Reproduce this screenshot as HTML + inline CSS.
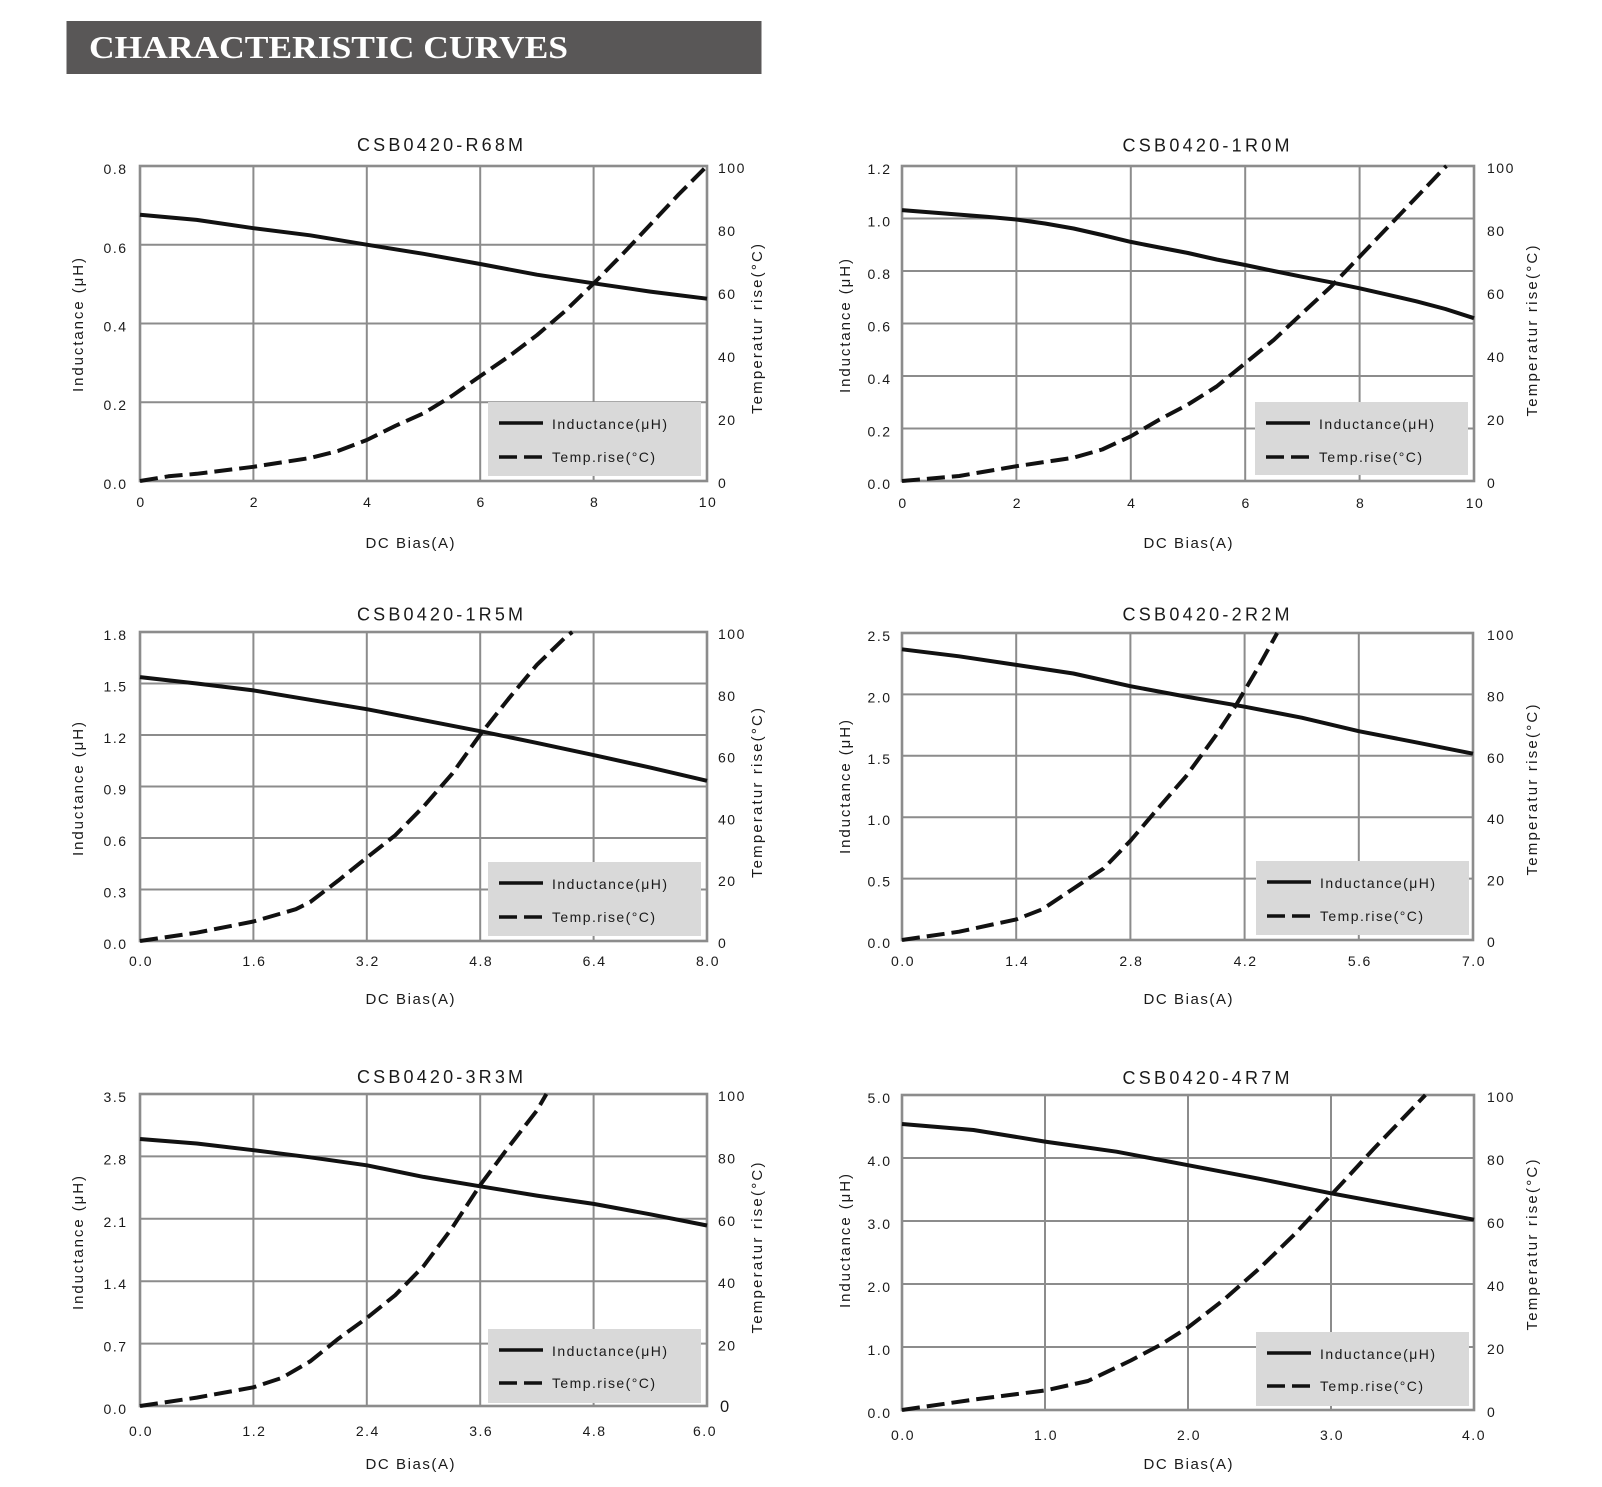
<!DOCTYPE html>
<html><head><meta charset="utf-8"><style>
html,body{margin:0;padding:0;background:#fff;}
svg{display:block;}
text{font-family:"Liberation Sans",sans-serif;fill:#1a1a1a;}
.t{font-size:14px;letter-spacing:1.5px;}
.l{text-anchor:end;}
.m{text-anchor:middle;}
.ttl{font-size:18px;text-anchor:middle;}
.ax{font-size:15px;}
.lg{font-size:14px;}
.g{stroke:#8c8c8c;stroke-width:2;fill:none;}
.fr{stroke:#8c8c8c;stroke-width:2.6;fill:none;}
.cL{stroke:#111;stroke-width:4;fill:none;stroke-linejoin:round;}
.cT{stroke:#111;stroke-width:4;fill:none;stroke-linejoin:round;stroke-dasharray:18 7;}
.lb{fill:#d9d9d9;}
</style></head><body>
<svg width="1602" height="1487" viewBox="0 0 1602 1487" xmlns="http://www.w3.org/2000/svg">
<rect x="66.5" y="21" width="695" height="53" fill="#595757"/>
<text x="89" y="58" style="font-family:'Liberation Serif',serif;font-weight:bold;font-size:32px;fill:#fff" textLength="479" lengthAdjust="spacingAndGlyphs">CHARACTERISTIC CURVES</text>

<!-- ============ CHART 1 ============ -->
<text class="ttl" x="440" y="151" textLength="166">CSB0420-R68M</text>
<g class="g">
<line x1="253.4" y1="166" x2="253.4" y2="481"/><line x1="366.8" y1="166" x2="366.8" y2="481"/><line x1="480.2" y1="166" x2="480.2" y2="481"/><line x1="593.6" y1="166" x2="593.6" y2="481"/>
<line x1="140" y1="402.25" x2="707" y2="402.25"/><line x1="140" y1="323.5" x2="707" y2="323.5"/><line x1="140" y1="244.75" x2="707" y2="244.75"/>
</g>
<rect class="lb" x="488" y="402" width="213" height="74"/>
<rect class="fr" x="140" y="166" width="567" height="315"/>
<g class="t l"><text x="127.5" y="489">0.0</text><text x="127.5" y="410">0.2</text><text x="127.5" y="331.5">0.4</text><text x="127.5" y="253">0.6</text><text x="127.5" y="174">0.8</text></g>
<g class="t"><text x="718" y="488">0</text><text x="718" y="425">20</text><text x="718" y="362">40</text><text x="718" y="299">60</text><text x="718" y="236">80</text><text x="718" y="173">100</text></g>
<g class="t m"><text x="141" y="507">0</text><text x="254.4" y="507">2</text><text x="367.8" y="507">4</text><text x="481.2" y="507">6</text><text x="594.6" y="507">8</text><text x="708" y="507">10</text></g>
<text class="ax m" x="410" y="548" textLength="89">DC Bias(A)</text>
<text class="ax m" transform="translate(83,325) rotate(-90)" textLength="134">Inductance (μH)</text>
<text class="ax m" transform="translate(762,329) rotate(-90)" textLength="170">Temperatur rise(°C)</text>
<line x1="499" y1="423" x2="543" y2="423" stroke="#111" stroke-width="3.6"/>
<text class="lg" x="552" y="429" textLength="115">Inductance(μH)</text>
<line x1="499" y1="457" x2="543" y2="457" stroke="#111" stroke-width="3.6" stroke-dasharray="18 7"/>
<text class="lg" x="552" y="462" textLength="103">Temp.rise(°C)</text>
<polyline class="cL" points="140,214.8 196.7,219.9 253.4,228.2 310.1,235.3 366.8,244.7 423.5,253.8 480.2,264 536.9,274.7 593.6,283.3 650.3,291.6 707,298.7"/>
<polyline class="cT" points="140,481 168.4,476.3 196.7,473.8 253.4,466.8 310.1,458 338.5,450.8 366.8,440 395.2,425.9 423.5,413.3 451.9,396 480.2,376.1 508.6,356.6 536.9,335.2 565.3,310.9 593.6,283.5 621.9,254.8 650.3,224.6 678.7,194.4 707,166"/>

<!-- ============ CHART 2 ============ -->
<text class="ttl" x="1206" y="151.5" textLength="167">CSB0420-1R0M</text>
<g class="g">
<line x1="1016.4" y1="166" x2="1016.4" y2="481"/><line x1="1130.8" y1="166" x2="1130.8" y2="481"/><line x1="1245.2" y1="166" x2="1245.2" y2="481"/><line x1="1359.6" y1="166" x2="1359.6" y2="481"/>
<line x1="902" y1="428.5" x2="1474" y2="428.5"/><line x1="902" y1="376" x2="1474" y2="376"/><line x1="902" y1="323.5" x2="1474" y2="323.5"/><line x1="902" y1="271" x2="1474" y2="271"/><line x1="902" y1="218.5" x2="1474" y2="218.5"/>
</g>
<rect class="lb" x="1255" y="402" width="213" height="73"/>
<rect class="fr" x="902" y="166" width="572" height="315"/>
<g class="t l"><text x="891.5" y="489">0.0</text><text x="891.5" y="436.5">0.2</text><text x="891.5" y="384">0.4</text><text x="891.5" y="331.5">0.6</text><text x="891.5" y="279">0.8</text><text x="891.5" y="226.5">1.0</text><text x="891.5" y="174">1.2</text></g>
<g class="t"><text x="1487" y="488">0</text><text x="1487" y="425">20</text><text x="1487" y="362">40</text><text x="1487" y="299">60</text><text x="1487" y="236">80</text><text x="1487" y="173">100</text></g>
<g class="t m"><text x="903" y="508">0</text><text x="1017.4" y="508">2</text><text x="1131.8" y="508">4</text><text x="1246.2" y="508">6</text><text x="1360.6" y="508">8</text><text x="1475" y="508">10</text></g>
<text class="ax m" x="1188" y="548" textLength="89">DC Bias(A)</text>
<text class="ax m" transform="translate(850,326) rotate(-90)" textLength="134">Inductance (μH)</text>
<text class="ax m" transform="translate(1537,331) rotate(-90)" textLength="171">Temperatur rise(°C)</text>
<line x1="1266" y1="423" x2="1310" y2="423" stroke="#111" stroke-width="3.6"/>
<text class="lg" x="1319" y="429" textLength="115">Inductance(μH)</text>
<line x1="1266" y1="457" x2="1310" y2="457" stroke="#111" stroke-width="3.6" stroke-dasharray="18 7"/>
<text class="lg" x="1319" y="462" textLength="103">Temp.rise(°C)</text>
<polyline class="cL" points="902,210.1 959.2,214.6 987.8,216.9 1016.4,219.5 1045,223.5 1073.6,228.5 1102.2,235 1130.8,241.9 1159.4,247.5 1188,253 1216.6,259.5 1245.2,265 1273.8,271 1302.4,276.8 1331,282.3 1359.6,288.3 1388.2,294.8 1416.8,301.4 1445.4,309 1474,318.2"/>
<polyline class="cT" points="902,481 959.2,476 1016.4,466.2 1073.6,457.7 1102.2,449.5 1130.8,436.3 1159.4,419.6 1188,404.5 1216.6,386.5 1245.2,363.2 1273.8,339.9 1302.4,313.1 1331,286.6 1359.6,256.7 1388.2,226.8 1416.8,196.9 1445.4,166.9 1446.5,166"/>

<!-- ============ CHART 3 ============ -->
<text class="ttl" x="440" y="620.5" textLength="166">CSB0420-1R5M</text>
<g class="g">
<line x1="253.4" y1="632" x2="253.4" y2="941"/><line x1="366.8" y1="632" x2="366.8" y2="941"/><line x1="480.2" y1="632" x2="480.2" y2="941"/><line x1="593.6" y1="632" x2="593.6" y2="941"/>
<line x1="140" y1="889.5" x2="707" y2="889.5"/><line x1="140" y1="838" x2="707" y2="838"/><line x1="140" y1="786.5" x2="707" y2="786.5"/><line x1="140" y1="735" x2="707" y2="735"/><line x1="140" y1="683.5" x2="707" y2="683.5"/>
</g>
<rect class="lb" x="488" y="862" width="213" height="74"/>
<rect class="fr" x="140" y="632" width="567" height="309"/>
<g class="t l"><text x="127.5" y="949">0.0</text><text x="127.5" y="897.5">0.3</text><text x="127.5" y="846">0.6</text><text x="127.5" y="794.5">0.9</text><text x="127.5" y="743">1.2</text><text x="127.5" y="691.5">1.5</text><text x="127.5" y="640">1.8</text></g>
<g class="t"><text x="718" y="948">0</text><text x="718" y="886.2">20</text><text x="718" y="824.4">40</text><text x="718" y="762.6">60</text><text x="718" y="700.8">80</text><text x="718" y="639">100</text></g>
<g class="t m"><text x="141" y="966">0.0</text><text x="254.4" y="966">1.6</text><text x="367.8" y="966">3.2</text><text x="481.2" y="966">4.8</text><text x="594.6" y="966">6.4</text><text x="708" y="966">8.0</text></g>
<text class="ax m" x="410" y="1004" textLength="89">DC Bias(A)</text>
<text class="ax m" transform="translate(83,789) rotate(-90)" textLength="134">Inductance (μH)</text>
<text class="ax m" transform="translate(762,793) rotate(-90)" textLength="170">Temperatur rise(°C)</text>
<line x1="499" y1="883" x2="543" y2="883" stroke="#111" stroke-width="3.6"/>
<text class="lg" x="552" y="889" textLength="115">Inductance(μH)</text>
<line x1="499" y1="917" x2="543" y2="917" stroke="#111" stroke-width="3.6" stroke-dasharray="18 7"/>
<text class="lg" x="552" y="922" textLength="103">Temp.rise(°C)</text>
<polyline class="cL" points="140,677.1 196.7,683.5 253.4,690.4 310.1,699.8 366.8,709.2 423.5,720.2 480.2,731.2 536.9,742.9 593.6,755.1 650.3,767.6 707,780.8"/>
<polyline class="cT" points="140,941 196.7,932.7 253.4,921.5 295.9,909.2 310.1,902.1 338.5,880.4 366.8,857.6 395.2,835.3 423.5,806.6 451.9,774.1 480.2,734.6 508.6,698.7 536.9,664.8 565.3,637.3 572.3,632"/>

<!-- ============ CHART 4 ============ -->
<text class="ttl" x="1206" y="620.5" textLength="167">CSB0420-2R2M</text>
<g class="g">
<line x1="1016.2" y1="633" x2="1016.2" y2="940"/><line x1="1130.4" y1="633" x2="1130.4" y2="940"/><line x1="1244.6" y1="633" x2="1244.6" y2="940"/><line x1="1358.8" y1="633" x2="1358.8" y2="940"/>
<line x1="902" y1="878.6" x2="1473" y2="878.6"/><line x1="902" y1="817.2" x2="1473" y2="817.2"/><line x1="902" y1="755.8" x2="1473" y2="755.8"/><line x1="902" y1="694.4" x2="1473" y2="694.4"/>
</g>
<rect class="lb" x="1256" y="861" width="213" height="74"/>
<rect class="fr" x="902" y="633" width="571" height="307"/>
<g class="t l"><text x="891.5" y="948">0.0</text><text x="891.5" y="886.6">0.5</text><text x="891.5" y="825.2">1.0</text><text x="891.5" y="763.8">1.5</text><text x="891.5" y="702.4">2.0</text><text x="891.5" y="641">2.5</text></g>
<g class="t"><text x="1487" y="947">0</text><text x="1487" y="885.6">20</text><text x="1487" y="824.2">40</text><text x="1487" y="762.8">60</text><text x="1487" y="701.4">80</text><text x="1487" y="640">100</text></g>
<g class="t m"><text x="903" y="966">0.0</text><text x="1017.2" y="966">1.4</text><text x="1131.4" y="966">2.8</text><text x="1245.6" y="966">4.2</text><text x="1359.8" y="966">5.6</text><text x="1474" y="966">7.0</text></g>
<text class="ax m" x="1188" y="1004" textLength="89">DC Bias(A)</text>
<text class="ax m" transform="translate(850,787) rotate(-90)" textLength="134">Inductance (μH)</text>
<text class="ax m" transform="translate(1537,790) rotate(-90)" textLength="171">Temperatur rise(°C)</text>
<line x1="1267" y1="882" x2="1311" y2="882" stroke="#111" stroke-width="3.6"/>
<text class="lg" x="1320" y="888" textLength="115">Inductance(μH)</text>
<line x1="1267" y1="916" x2="1311" y2="916" stroke="#111" stroke-width="3.6" stroke-dasharray="18 7"/>
<text class="lg" x="1320" y="921" textLength="103">Temp.rise(°C)</text>
<polyline class="cL" points="902,649.3 959.1,656.3 1016.2,664.9 1073.3,673.5 1130.4,686.2 1187.5,696.9 1244.6,706.7 1301.7,717.7 1358.8,731.2 1415.9,742.3 1473,753.7"/>
<polyline class="cT" points="902,940 959.1,931.7 1016.2,919.4 1042.3,909.3 1073.3,888.7 1103.5,868.5 1130.4,840.8 1154.9,812 1185.9,776.4 1216,735.2 1236.4,704.5 1256.8,669.8 1277.2,633"/>

<!-- ============ CHART 5 ============ -->
<text class="ttl" x="440" y="1083" textLength="166">CSB0420-3R3M</text>
<g class="g">
<line x1="253.4" y1="1094" x2="253.4" y2="1406"/><line x1="366.8" y1="1094" x2="366.8" y2="1406"/><line x1="480.2" y1="1094" x2="480.2" y2="1406"/><line x1="593.6" y1="1094" x2="593.6" y2="1406"/>
<line x1="140" y1="1343.6" x2="707" y2="1343.6"/><line x1="140" y1="1281.2" x2="707" y2="1281.2"/><line x1="140" y1="1218.8" x2="707" y2="1218.8"/><line x1="140" y1="1156.4" x2="707" y2="1156.4"/>
</g>
<rect class="lb" x="488" y="1329" width="213" height="74"/>
<rect class="fr" x="140" y="1094" width="567" height="312"/>
<g class="t l"><text x="127.5" y="1414">0.0</text><text x="127.5" y="1351.6">0.7</text><text x="127.5" y="1289.2">1.4</text><text x="127.5" y="1226.8">2.1</text><text x="127.5" y="1164.4">2.8</text><text x="127.5" y="1102">3.5</text></g>
<g class="t"><text x="720" y="1412" style="font-size:16.5px">0</text><text x="718" y="1350.6">20</text><text x="718" y="1288.2">40</text><text x="718" y="1225.8">60</text><text x="718" y="1163.4">80</text><text x="718" y="1101">100</text></g>
<g class="t m"><text x="141" y="1436">0.0</text><text x="254.4" y="1436">1.2</text><text x="367.8" y="1436">2.4</text><text x="481.2" y="1436">3.6</text><text x="594.6" y="1436">4.8</text><text x="705" y="1436">6.0</text></g>
<text class="ax m" x="410" y="1469" textLength="89">DC Bias(A)</text>
<text class="ax m" transform="translate(83,1243) rotate(-90)" textLength="134">Inductance (μH)</text>
<text class="ax m" transform="translate(762,1248) rotate(-90)" textLength="171">Temperatur rise(°C)</text>
<line x1="499" y1="1350" x2="543" y2="1350" stroke="#111" stroke-width="3.6"/>
<text class="lg" x="552" y="1356" textLength="115">Inductance(μH)</text>
<line x1="499" y1="1383" x2="543" y2="1383" stroke="#111" stroke-width="3.6" stroke-dasharray="18 7"/>
<text class="lg" x="552" y="1388" textLength="103">Temp.rise(°C)</text>
<polyline class="cL" points="140,1139 196.7,1143.5 253.4,1150.2 310.1,1157.3 366.8,1165.3 423.5,1176.9 480.2,1186.3 536.9,1195.6 593.6,1203.9 650.3,1214.3 707,1225.5"/>
<polyline class="cT" points="140,1406 196.7,1397.6 253.4,1387.3 281.8,1377.9 310.1,1361.4 338.5,1338.6 366.8,1318 395.2,1295.2 423.5,1266.2 451.9,1228.2 480.2,1185.1 508.6,1147 536.9,1110.5 546.4,1094"/>

<!-- ============ CHART 6 ============ -->
<text class="ttl" x="1206" y="1084" textLength="167">CSB0420-4R7M</text>
<g class="g">
<line x1="1045" y1="1095" x2="1045" y2="1410"/><line x1="1188" y1="1095" x2="1188" y2="1410"/><line x1="1331" y1="1095" x2="1331" y2="1410"/>
<line x1="902" y1="1347" x2="1474" y2="1347"/><line x1="902" y1="1284" x2="1474" y2="1284"/><line x1="902" y1="1221" x2="1474" y2="1221"/><line x1="902" y1="1158" x2="1474" y2="1158"/>
</g>
<rect class="lb" x="1256" y="1332" width="213" height="74"/>
<rect class="fr" x="902" y="1095" width="572" height="315"/>
<g class="t l"><text x="891.5" y="1418">0.0</text><text x="891.5" y="1355">1.0</text><text x="891.5" y="1292">2.0</text><text x="891.5" y="1229">3.0</text><text x="891.5" y="1166">4.0</text><text x="891.5" y="1103">5.0</text></g>
<g class="t"><text x="1487" y="1417">0</text><text x="1487" y="1354">20</text><text x="1487" y="1291">40</text><text x="1487" y="1228">60</text><text x="1487" y="1165">80</text><text x="1487" y="1102">100</text></g>
<g class="t m"><text x="903" y="1440">0.0</text><text x="1046" y="1440">1.0</text><text x="1189" y="1440">2.0</text><text x="1332" y="1440">3.0</text><text x="1474" y="1440">4.0</text></g>
<text class="ax m" x="1188" y="1469" textLength="89">DC Bias(A)</text>
<text class="ax m" transform="translate(850,1241) rotate(-90)" textLength="134">Inductance (μH)</text>
<text class="ax m" transform="translate(1537,1245) rotate(-90)" textLength="171">Temperatur rise(°C)</text>
<line x1="1267" y1="1353" x2="1311" y2="1353" stroke="#111" stroke-width="3.6"/>
<text class="lg" x="1320" y="1359" textLength="115">Inductance(μH)</text>
<line x1="1267" y1="1386" x2="1311" y2="1386" stroke="#111" stroke-width="3.6" stroke-dasharray="18 7"/>
<text class="lg" x="1320" y="1391" textLength="103">Temp.rise(°C)</text>
<polyline class="cL" points="902,1124 973.5,1130 1045,1141.6 1116.5,1151.7 1188,1165.2 1259.5,1178.8 1331,1193.3 1402.5,1206.5 1474,1219.7"/>
<polyline class="cT" points="902,1410 973.5,1399.6 1045,1390.5 1087.9,1381 1130.8,1360.5 1159.4,1345.4 1188,1327.5 1223.8,1299.8 1259.5,1268.3 1295.3,1233.6 1331,1195.2 1373.9,1148.6 1425.4,1095"/>
</svg>
</body></html>
